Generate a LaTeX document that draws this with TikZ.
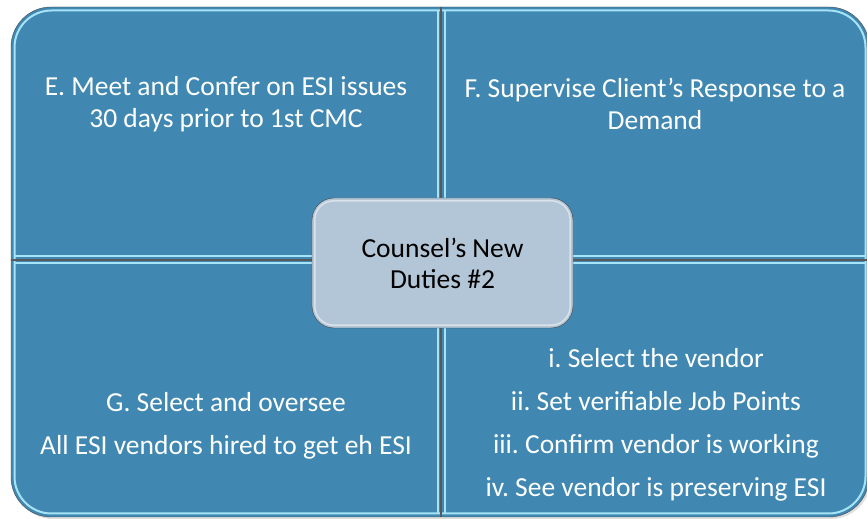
\documentclass[tikz,border=0pt]{standalone}
\usepackage{fontspec}
\setmainfont{Carlito}
\frenchspacing
\usetikzlibrary{positioning,arrows.meta}
\definecolor{quadblue}{HTML}{4088B2}
\definecolor{glint}{HTML}{A6E3F7}
\definecolor{hubgray}{HTML}{B3C6D7}

\begin{document}
\begin{tikzpicture}[x=1pt,y=1pt,
    quadtext/.style={text=white, align=center, font=\fontsize{27.5}{32}\selectfont},
    listtext/.style={text=white, align=center, font=\fontsize{27.5}{43}\selectfont},
    hub/.style={draw=black!75, fill=hubgray, rounded corners=22pt,
        minimum width=261pt, minimum height=130pt, align=center,
        font=\fontsize{27.5}{31}\selectfont},
    ]
\useasboundingbox (0,0) rectangle (867,519);

% frame and shadow
\fill[black!30, opacity=0.4, rounded corners=40pt] (13,0) rectangle (871,510);
\fill[quadblue, draw=black!70, rounded corners=40pt] (11,2) rectangle (869,512);

% bevel highlights of the four quarters
\draw[glint, line width=2pt, rounded corners=37pt] (14.5,5.5) rectangle (865.5,508.5);
\foreach \d in {-3.5,3.5} {
    \draw[glint, line width=2pt] (441+\d,5.5) -- (441+\d,508.5);
    \draw[glint, line width=2pt] (14.5,259+\d) -- (865.5,259+\d);
}
\draw[black!65, line width=1.2pt] (441,2) -- (441,512) (11,259) -- (869,259);

\node[quadtext] (meet) at (226,415) {E. Meet and Confer on ESI issues\\30 days prior to 1st CMC};
\node[quadtext] (supervise) at (655,415) {F. Supervise Client’s Response to a\\Demand};
\node[listtext] (oversee) at (226,93) {G. Select and oversee\\All ESI vendors hired to get eh ESI};
\node[listtext] (vendor) at (656,94) {i. Select the vendor\\ii. Set verifiable Job Points\\iii. Confirm vendor is working\\iv. See vendor is preserving ESI};

\node[hub] (duties) at (442.5,256) {Counsel’s New\\Duties \#2};
\draw[white, opacity=0.5, line width=1.5pt, rounded corners=19pt]
    ([shift={(3,3)}]duties.south west) rectangle ([shift={(-3,-3)}]duties.north east);

\end{tikzpicture}
\end{document}
